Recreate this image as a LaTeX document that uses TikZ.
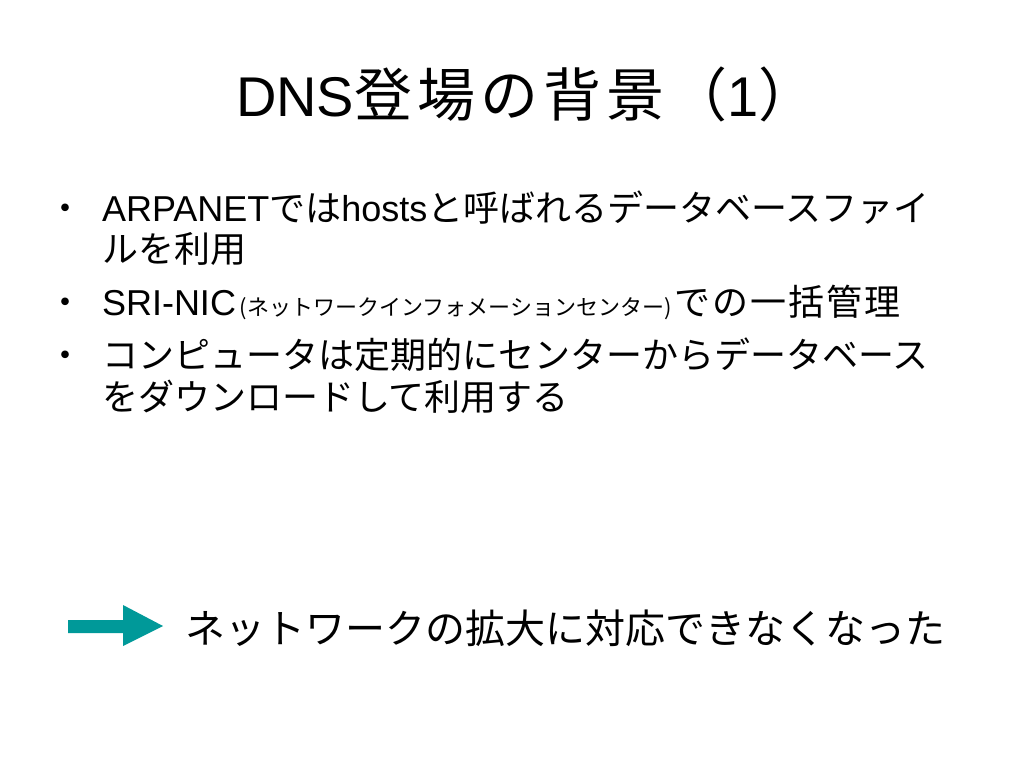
\documentclass[tikz,border=0pt]{standalone}
\usepackage{fontspec}
\setmainfont{Noto Sans CJK JP}
\newfontfamily\lat{Liberation Sans}
\definecolor{teal1}{RGB}{0,153,153}
\newcommand\tg{\hspace{5pt}}
\newcommand\bg{\hspace{2pt}}
\begin{document}
\begin{tikzpicture}[x=1pt,y=-1pt,
  every node/.style={inner sep=0pt,outer sep=0pt,anchor=base west},
  titletext/.style={font=\fontsize{58}{64}\selectfont},
  bodytext/.style={font=\fontsize{36}{41}\selectfont},
  bigtext/.style={font=\fontsize{40}{46}\selectfont}]
\fill[white] (0,0) rectangle (1024,768);
\useasboundingbox (0,0) rectangle (1024,768);
\node[titletext] (title) at (236,116) {{\lat\fontsize{56}{64}\selectfont DNS}登\tg 場\tg の\tg 背\tg 景\tg （{\lat\fontsize{56}{64}\selectfont 1}）};
\node[bodytext] (b1) at (47,221) {・};
\node[bodytext] (l1) at (102,221) {{\lat ARPANET}では{\lat hosts}と呼ばれるデータベースファイ};
\node[bodytext] (l2) at (102,262) {ルを利用};
\node[bodytext] (b2) at (47,315) {・};
\node[bodytext] (l3) at (102,315) {{\lat SRI-NIC}\hspace{4pt}{\fontsize{22}{26}\selectfont (ネットワークインフォメーションセンター)}\hspace{3pt}で\bg の\bg 一\bg 括\bg 管\bg 理};
\node[bodytext] (b3) at (47,368) {・};
\node[bodytext] (l4) at (102,368) {コンピュータは定期的にセンターからデータベース};
\node[bodytext] (l5) at (102,410) {をダウンロードして利用する};
\fill[teal1] (68,620) -- (123,620) -- (123,605) -- (163,626) -- (123,646) -- (123,633) -- (68,633) -- cycle;
\node[bigtext] (concl) at (185,643) {ネットワークの拡大に対応できなくなった};
\end{tikzpicture}
\end{document}
